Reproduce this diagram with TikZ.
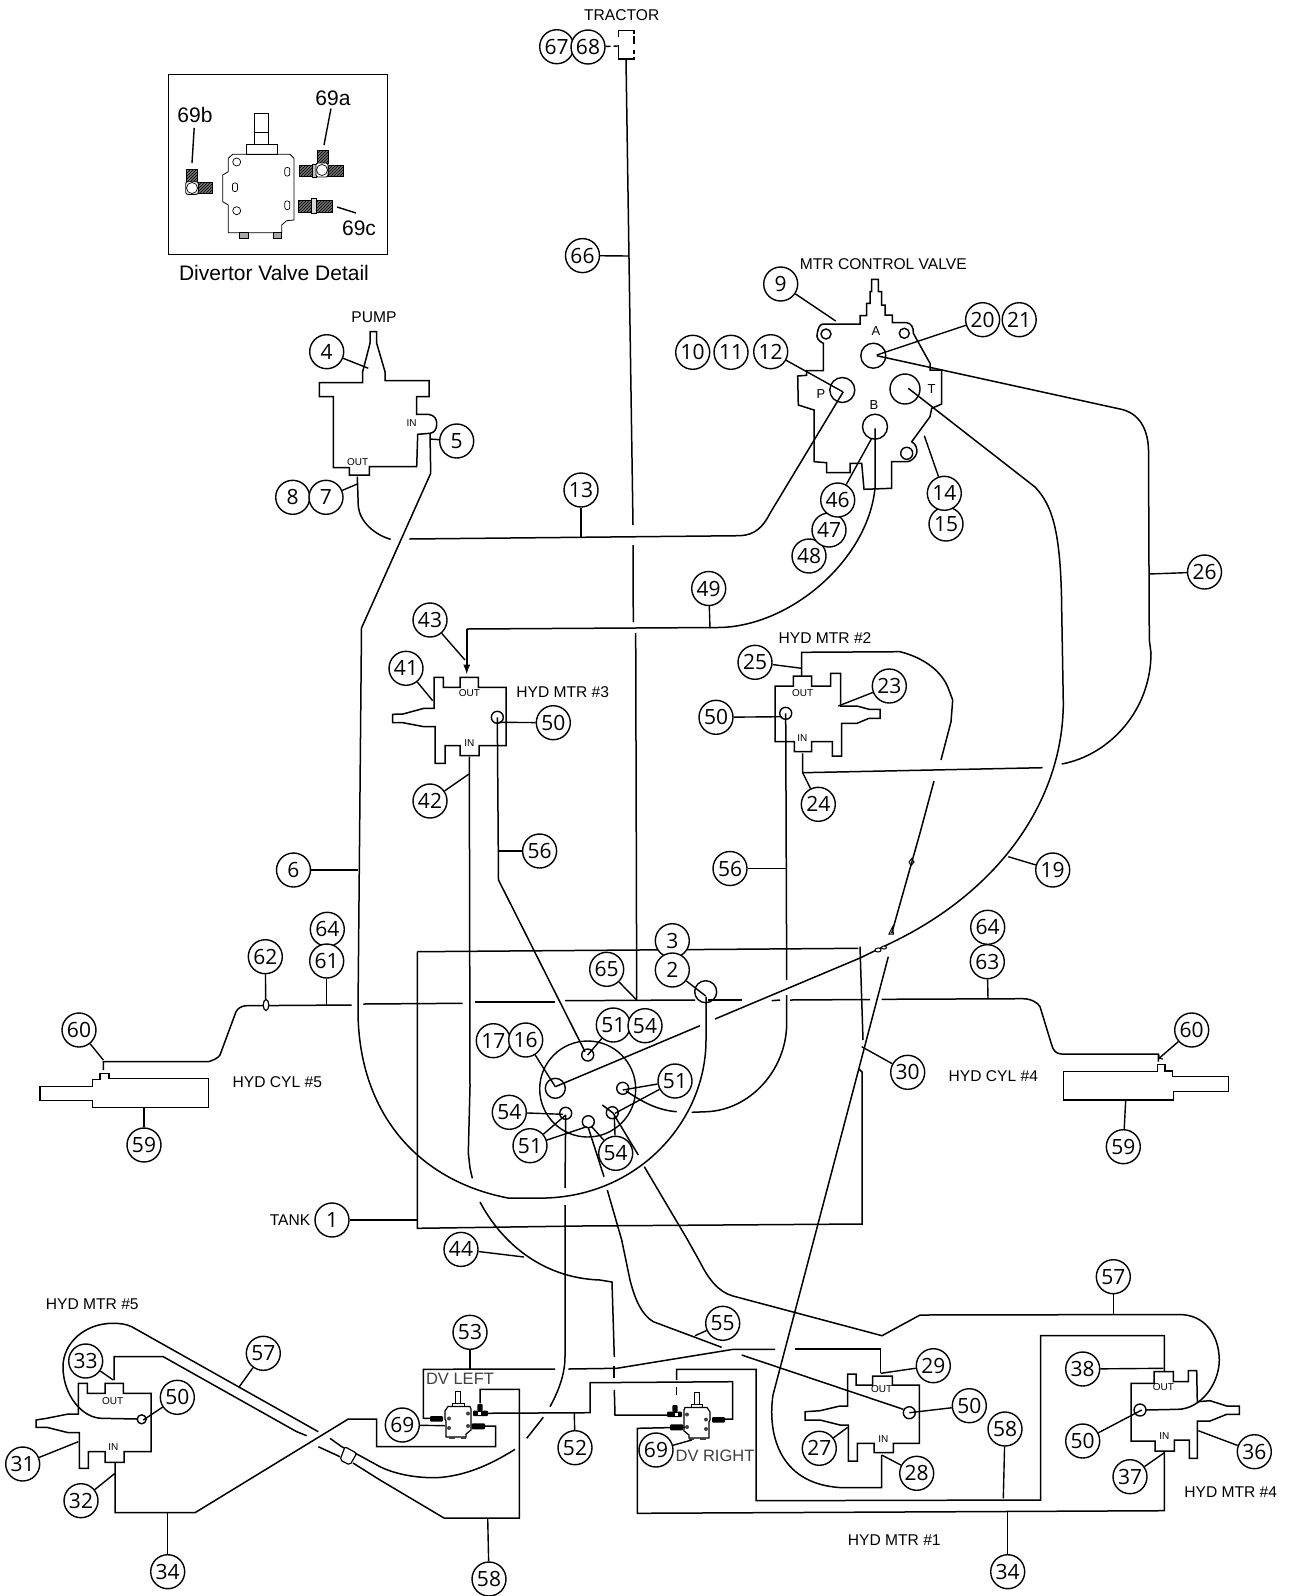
\documentclass[tikz,border=0pt]{standalone}
\usepackage{fontspec}
\usetikzlibrary{patterns}
\setmainfont{Liberation Sans}
\newfontfamily\ballfont{Open Sans}
\tikzset{
    ball/.style={circle, draw, fill=white, line width=1.4pt, minimum size=34pt, inner sep=0pt, font=\ballfont\fontsize{21}{21}\selectfont},
    leader/.style={line width=1.4pt},
    hose/.style={line width=1.5pt},
    body/.style={line width=1.5pt, line join=miter},
    port/.style={line width=1.4pt},
    thread/.style={draw, fill=black!55, line width=0.8pt, postaction={pattern=north east lines, pattern color=black}},
    mtrlabel/.style={inner sep=0pt, font=\fontsize{15.6}{16}\selectfont},
    dvlabel/.style={inner sep=0pt, text=black!75, font=\fontsize{16.5}{17}\selectfont},
    detlabel/.style={inner sep=0pt, font=\fontsize{21}{22}\selectfont},
    pinlabel/.style={inner sep=0pt, font=\fontsize{10}{10}\selectfont},
    valvepin/.style={inner sep=0pt, font=\fontsize{13}{13}\selectfont},
    dvvalve/.pic={
        \draw [line width=1pt] (-2.5,-30) rectangle (2.5,-18);
        \draw [line width=1pt] (-5.5,-18) rectangle (6,-14.5);
        \draw [line width=1.2pt] (-10,-14.5) -- (12,-14.5) -- (13,-12) -- (13,9) -- (8,13) -- (8,16) -- (-12,16) -- (-12,0) -- (-13,-2) -- (-13,-10) -- cycle;
        \fill [black!75] (-9,16) rectangle (-3,18);
        \fill [black!75] (3,16) rectangle (8,18);
        \fill [black!75] (-9,-2.5) circle (2);
        \fill [black!75] (-9,7) circle (2);
        \fill [black!75] (10,-7.5) circle (2);
        \fill [black!75] (10,5) circle (2);
        \fill [black, rounded corners=1pt] (-28,-5) rectangle (-15,0.7);
        \fill [black, rounded corners=1pt] (15,-10.3) rectangle (30,-5);
        \fill [black, rounded corners=1pt] (19.3,-17) rectangle (24.7,-10);
        \fill [white] (19.5,-9.5) rectangle (22.5,-6.5);
        \fill [black, rounded corners=1pt] (13.7,2.3) rectangle (27,8.3);
    }
}

\begin{document}
\begin{tikzpicture}[x=1pt, y=-1pt]
    \useasboundingbox (0,0) rectangle (1289,1596);

    % Divertor detail
    \draw [line width=1pt] (168.3,74.3) rectangle (387.7,254.3);
    \draw [line width=0.8pt] (254,113) rectangle (268,144);
    \draw [line width=0.8pt] (254,132) -- (268,132);
    \draw [line width=0.8pt] (246,144) rectangle (277,154.3);
    \draw [line width=0.8pt] (232.7,154.3) -- (290,154.3) -- (294,158.3) -- (294,220) -- (286.7,220.7) -- (281.7,225) -- (281.7,232.7) -- (228.3,232.7) -- (228.3,205) -- (222.7,201.7) -- (222.7,175) -- (228.3,171.7) -- (228.3,158.3) -- cycle;
    \draw [line width=0.6pt, fill=black!35] (239.3,232.7) rectangle (248.3,238);
    \draw [line width=0.6pt, fill=black!35] (273.3,232.7) rectangle (281.7,238);
    \draw [line width=0.7pt] (236.7,162) circle (4);
    \draw [line width=0.7pt] (236.7,210.7) circle (4);
    \draw [line width=0.7pt, rounded corners=2pt] (232.5,183) rectangle (237.5,191.5);
    \draw [line width=0.7pt, rounded corners=2pt] (284.8,167.5) rectangle (289.8,176);
    \draw [line width=0.7pt, rounded corners=2pt] (284.8,201) rectangle (289.8,209.5);
    % 69a
    \draw [thread] (299,165) rectangle (312,176);
    \draw [thread] (328,165) rectangle (343.3,176);
    \draw [thread] (317.7,150) rectangle (328.3,163);
    \draw [line width=0.8pt, fill=black!25] (312,164) rectangle (316,177);
    \draw [line width=0.9pt, fill=white, rounded corners=2pt] (316,163) rectangle (328,177);
    \draw [line width=0.7pt] (322,170) circle (5.5);
    % 69b
    \draw [thread] (186.7,169) rectangle (197.3,182);
    \draw [thread] (198.3,182.3) rectangle (212.3,193.3);
    \draw [line width=0.9pt, fill=white, rounded corners=2pt] (185.7,181.7) rectangle (198.3,194.3);
    \draw [line width=0.7pt] (192,188) circle (5.5);
    % 69c
    \draw [thread] (298.3,200) rectangle (311,212);
    \draw [thread] (316.7,200) rectangle (332.7,212);
    \draw [line width=0.8pt, fill=black!15] (311,198.3) rectangle (316.7,213.3);

    \node [detlabel] (l69b) at (195,115) {69b};
    \node [detlabel] (l69a) at (333,98) {69a};
    \node [detlabel] (l69c) at (359,228) {69c};
    \node [inner sep=0pt, font=\fontsize{21}{22}\selectfont] (ldetail) at (274,273) {Divertor Valve Detail};
    \coordinate (t69b) at (192,163);
    \coordinate (t69a) at (324,145);
    \coordinate (t69c) at (337,207);
    \coordinate (s69c) at (356,213);
    \draw [leader, shorten <=5pt] (l69b) -- (t69b);
    \draw [leader, shorten <=3pt] (l69a) -- (t69a);
    \draw [leader] (t69c) -- (s69c);

    % Tractor
    \draw [hose] (618.3,37) -- (618.3,30.7) -- (634,30.7) -- (634,34);
    \draw [hose] (634,36) -- (634,44);
    \draw [hose] (634,50) -- (634,54);
    \draw [hose] (618.3,45) -- (618.3,59) -- (634,59) -- (634,57);

    % Hoses
    \draw [hose] (626,59) -- (633,525);
    \draw [hose] (633,545) -- (633.3,622);
    \draw [hose] (635.7,633) -- (636.7,1000);

    % Tank
    \draw [hose] (417.3,951.7) -- (858.3,948.3);
    \draw [hose] (860,946.7) -- (863,1040);
    \draw [hose] (859,1069) -- (862,1072) -- (862,1224) -- (580,1226) -- (417.3,1228.3) -- (417.3,951.7);
    \draw [port] (705.7,991.7) circle (11);
    \draw [port] (587.7,1089) circle (48);
    \draw [port] (555.3,1088.3) circle (10);
    \draw [port] (587.7,1055) circle (6);
    \draw [port] (622.7,1088.3) circle (6);
    \draw [port] (612.3,1112.7) circle (6);
    \draw [port] (588.3,1121.7) circle (6);
    \draw [port] (565.7,1113.3) circle (6);

    % Cylinder lines
    \draw [hose] (103.3,1070) -- (103.3,1061.7) -- (208.3,1061.7) .. controls (214,1060) and (218,1058) .. (220,1055) -- (236,1011.7) .. controls (238,1008) and (242,1005.7) .. (246.7,1005.7) -- (351.7,1005);
    \draw [hose] (363.3,1004) -- (462.7,1003.3);
    \draw [hose] (475,1002) -- (555,1002);
    \draw [hose] (565,1000.7) -- (695,1000);
    \draw [hose] (708,1000) -- (741.7,1000);
    \draw [hose] (771.7,1000.7) -- (780,1000);
    \draw [hose] (790,1000) -- (870,999.5);
    \draw [hose] (881.7,999.3) -- (1023.3,998.7) .. controls (1032,999) and (1038,1003) .. (1040,1006.7) -- (1051.7,1045) .. controls (1053,1050) and (1056,1054) .. (1061.7,1054) -- (1158.3,1054) -- (1158.3,1061.7);
    \draw [line width=1.2pt, fill=white] (266,1005) ellipse (2.8 and 5.5);

    % Cylinder #5
    \draw [body] (40,1086.7) -- (92.7,1086.7) -- (92.7,1079.3) -- (100,1079.3) -- (100,1073.3) -- (109,1073.3) -- (109,1078.7) -- (208.3,1078.7) -- (208.3,1107.7) -- (92.7,1107.7) -- (92.7,1100.7) -- (40,1100.7) -- cycle;
    % Cylinder #4
    \draw [body] (1063.3,1071.7) -- (1157.7,1071.7) -- (1157.7,1064.3) -- (1165,1064.3) -- (1165,1071) -- (1172.3,1071) -- (1172.3,1076.7) -- (1228.3,1076.7) -- (1228.3,1091.7) -- (1173.3,1091.7) -- (1173.3,1100) -- (1063.3,1100) -- cycle;

    % Pump
    \draw [body] (370,331.7) -- (376.7,331.7) -- (376.7,343.3) -- (385,371.7) -- (385,380.7) -- (429,380.7) -- (429,396.7) -- (416.7,396.7) -- (416.7,414.3) -- (428.3,414.3) .. controls (435,415) and (437,420) .. (436.7,424) .. controls (437,429) and (434,433) .. (430,433.3) -- (417.7,434.3) -- (416.7,466.7) -- (369.3,466.7) -- (369.3,475) -- (349.3,475) -- (349.3,467.7) -- (333.3,467.7) -- (333.3,396.7) -- (319.3,396.7) -- (319.3,382.7) -- (362.7,382.7) -- (362.7,371.7) -- (370,343.3) -- cycle;
    \draw [hose] (357.3,476.7) -- (358.3,506.7) .. controls (360,522) and (375,535) .. (390.7,539.3);
    \draw [hose] (430,433.3) -- (430.7,473.3) -- (361.5,628) -- (358,1010) .. controls (358,1110) and (415,1180) .. (508,1198) -- (546,1198) .. controls (640,1195) and (706,1120) .. (706,1040) -- (706,996.7);
    \draw [hose] (409.3,539) -- (740,535.7) .. controls (755,535) and (763,527) .. (770,513.3) -- (843.3,391.7);

    % Control valve
    \draw [body] (871.7,279.3) -- (878.3,279.3) -- (878.3,291.7) -- (881.7,291.7) -- (881.7,305) -- (885,305) -- (885,315) -- (892.3,315) -- (892.3,322.7) -- (906.7,322.7) .. controls (911,323) and (914,328) .. (913.3,333.3) -- (930,363.3) -- (930,370) -- (941.7,370) -- (941.7,404) -- (931.7,408.3) -- (930,416.7) -- (911.7,441.7) .. controls (916,444) and (917.5,449) .. (916.7,453.3) .. controls (915,458) and (911,461.7) .. (906.7,461.7) -- (891.7,461.7) -- (891.7,488.3) -- (864,489.3) -- (861.7,463.3) -- (850,463.3) -- (850,472.7) -- (826.7,472.7) -- (826.7,462.7) -- (814,461.7) -- (814,410) -- (798.3,405) -- (797.7,376) -- (806.7,375.3) -- (806.7,370.7) -- (823.3,370.7) -- (823.3,343.3) .. controls (818,341) and (816,337) .. (817.3,333.3) .. controls (818,328) and (820,324) .. (823.3,324) -- (860,324) -- (860,315.7) -- (866.7,315.7) -- (866.7,303.3) -- (870,303.3) -- (870,291.7) -- (871.7,291.7) -- cycle;
    \draw [port] (826,334) circle (5);
    \draw [port] (904.3,333.3) circle (5);
    \draw [port] (906.7,453.3) circle (6);
    \draw [port] (842.3,390) circle (12.5);
    \draw [port] (873.3,355.7) circle (12.5);
    \draw [port] (875,426.7) circle (12.5);
    \draw [port] (905,389) circle (15);
    \node [valvepin] (lp) at (821,394.3) {P};
    \node [valvepin] (la) at (876,331) {A};
    \node [valvepin] (lb) at (874,405) {B};
    \node [valvepin] (lt) at (931.7,389.3) {T};

    % Lines from the control valve
    \draw [hose] (875,428.3) -- (875,488) .. controls (868,560) and (790,627) .. (718,627.5) -- (466.7,629);
    \draw [line width=2.2pt, -latex] (466.7,629) -- (466.7,674);
    \draw [hose] (876.7,355.7) -- (1120,409) .. controls (1140,413) and (1148,430) .. (1148.5,450) -- (1149.3,640) -- (1151,653) .. controls (1151,710) and (1110,755) .. (1061.7,764);
    \draw [hose] (1042.7,767.7) -- (802.7,772.7) -- (802.7,753.3);
    \draw [hose] (908.3,388.3) -- (1035,487) .. controls (1052,505) and (1061,530) .. (1061.7,610) -- (1063.3,703) .. controls (1063,800) and (1000,890) .. (893,942) -- (860,958) -- (715,1019);
    \draw [hose] (700,1025.7) -- (555.3,1086.7);
    \draw [line width=1pt, fill=white] (878,950) ellipse (3 and 2);
    \draw [line width=1pt, fill=white] (884,947.5) ellipse (2.5 and 1.5);
    \draw [hose] (801.7,676.7) -- (801.7,652.3) -- (900,651.7) .. controls (925,658) and (942,672) .. (948.3,688.3) -- (952.7,700) -- (951,721.7) -- (941,760);
    \draw [hose] (934,781) -- (920,833) -- (891.7,933.3);
    \draw [line width=1pt] (911.7,858.5) -- (914,862) -- (911,865.5) -- (909,862) -- cycle;
    \draw [line width=1pt] (892.5,927) -- (893.5,934) -- (889,934) -- cycle;
    \draw [hose] (888.3,956.7) -- (773,1395) .. controls (768,1428) and (775,1485) .. (843,1487.7) -- (881.7,1487.7) -- (881.7,1455);

    % Motor #3
    \draw [body] (392.7,714.3) -- (403,714) -- (424,708.3) -- (434,708.3) -- (434,677.3) -- (443.3,677.3) -- (443.3,687.3) -- (460,687.3) -- (460,677.3) -- (478.3,677.3) -- (478.3,687.3) -- (506,687.3) -- (506,745.7) -- (479,745.7) -- (479,755.7) -- (460,755.7) -- (460,745.7) -- (445,745.7) -- (445,763.3) -- (435,763.3) -- (435,726.7) -- (424,726.7) -- (403,722.7) -- (392.7,722.7) -- cycle;
    \draw [port] (497.3,717.3) circle (6);
    \node [pinlabel] (m3out) at (469.3,692.7) {OUT};
    \node [pinlabel] (m3in) at (469.3,742.7) {IN};
    % Motor #2
    \draw [body] (775,686) -- (793.3,686) -- (793.3,676) -- (811.7,676) -- (811.7,686) -- (830.7,686) -- (830.7,673.3) -- (840.7,673.3) -- (840.7,706) -- (857,706) -- (869,709.3) -- (880,709.3) -- (880,718.3) -- (869,718.3) -- (857,723.3) -- (841.7,723.3) -- (841.7,756) -- (832.3,756) -- (832.3,741.7) -- (811.7,741.7) -- (811.7,751.7) -- (794.3,751.7) -- (794.3,741.7) -- (775,741.7) -- cycle;
    \draw [port] (785.7,713.3) circle (6);
    \node [pinlabel] (m2out) at (802.7,692.7) {OUT};
    \node [pinlabel] (m2in) at (802.3,738.3) {IN};
    % Motor #5
    \draw [body] (36,1420) -- (46.7,1418.3) -- (68.3,1414) -- (78.3,1414) -- (78.3,1383.3) -- (87.3,1383.3) -- (87.3,1393.3) -- (105,1393.3) -- (105,1383.3) -- (123.3,1383.3) -- (123.3,1393.3) -- (151,1393.3) -- (151,1451.7) -- (124,1451.7) -- (124,1462.3) -- (105,1462.3) -- (105,1451.7) -- (88.3,1451.7) -- (88.3,1468.3) -- (79.3,1468.3) -- (79.3,1432.7) -- (68.3,1432.7) -- (46.7,1427.3) -- (36,1427.3) -- cycle;
    \draw [port] (141.7,1419.3) circle (4.5);
    \node [pinlabel] (m5out) at (112.7,1400.7) {OUT};
    \node [pinlabel] (m5in) at (113.3,1447.3) {IN};
    % Motor #1
    \draw [body] (805,1411.7) -- (820,1410.7) -- (840,1406) -- (847.7,1406) -- (847.7,1374) -- (856,1374) -- (856,1385) -- (872.7,1385) -- (872.7,1376) -- (892.3,1376) -- (892.3,1385) -- (919.3,1385) -- (919.3,1443.3) -- (893.3,1443.3) -- (893.3,1452.7) -- (874,1452.7) -- (874,1443.3) -- (857.3,1443.3) -- (857.3,1461) -- (848.3,1461) -- (848.3,1425) -- (840,1425) -- (820,1420) -- (805,1420) -- cycle;
    \draw [port] (909.3,1412.7) circle (6);
    \node [pinlabel] (m1out) at (881.7,1389.3) {OUT};
    \node [pinlabel] (m1in) at (883.3,1439) {IN};
    % Motor #4
    \draw [body] (1131,1383.3) -- (1154,1383.3) -- (1154,1371.7) -- (1173.3,1371.7) -- (1173.3,1381.7) -- (1188.3,1381.7) -- (1188.3,1370.7) -- (1196.7,1370.7) -- (1197.3,1401.7) -- (1210,1400.7) -- (1226.7,1406) -- (1239.3,1406) -- (1239.3,1414.3) -- (1226.7,1414.3) -- (1210,1421) -- (1197.3,1421) -- (1197.3,1458.3) -- (1189.3,1458.3) -- (1189.3,1440) -- (1174.3,1440) -- (1174.3,1451) -- (1155,1451) -- (1155,1441) -- (1131,1441) -- cycle;
    \draw [port] (1140,1410) circle (6);
    \node [pinlabel] (m4out) at (1163.3,1387.3) {OUT};
    \node [pinlabel] (m4in) at (1164.3,1436) {IN};

    % Lines to the tank
    \draw [hose] (469.3,756.7) -- (470,1086.7) -- (468.3,1153) -- (470,1168) -- (472.3,1178.3);
    \draw [hose] (480,1202) .. controls (500,1240) and (540,1278) .. (600,1280) -- (612,1282) -- (614.3,1357);
    \draw [hose] (614,1366) -- (614,1378);
    \draw [hose] (614.3,1390) -- (615,1415) -- (670,1415);
    \draw [hose] (497.3,717.3) -- (498.5,880) -- (585,1051.7);
    \draw [hose] (785.7,713.3) -- (786.7,980);
    \draw [hose] (786.7,995) -- (786.7,1023) .. controls (786.7,1070) and (750,1110) .. (706.7,1111.7) -- (691.7,1112.3);
    \draw [hose] (676.7,1111.7) .. controls (655,1110) and (640,1100) .. (626,1091);
    \draw [hose] (565.7,1115) -- (565,1188);
    \draw [hose] (565,1205) -- (565,1356.7) .. controls (565,1375) and (558,1392) .. (550,1406.7);
    \draw [hose] (543.3,1417.3) -- (526.7,1438.3);
    \draw [hose] (515,1449.3) .. controls (490,1465) and (465,1476) .. (436.7,1477.7) .. controls (415,1478) and (395,1474) .. (380,1466.7) -- (355,1453) -- (341.7,1446.7) -- (330,1438.3);
    \draw [hose] (318.3,1431.7) -- (131.7,1326.7) .. controls (126,1324) and (120,1323.3) .. (113.3,1323.3) .. controls (85,1323) and (63,1343) .. (63,1366.7) .. controls (63,1395) and (82,1418) .. (101.7,1418.3) -- (137.3,1419);
    \draw [hose] (588.3,1127.7) -- (604,1176.7);
    \draw [hose] (607.3,1190) -- (621.7,1240) -- (630,1280) .. controls (635,1300) and (642,1315) .. (653.3,1321.7) -- (721.7,1347.3);
    \draw [hose] (741.7,1355) -- (903.3,1409.3);
    \draw [hose] (602.3,1105) -- (613,1113) -- (638.3,1155);
    \draw [hose] (644.3,1166.7) -- (686.7,1238.3) -- (700,1262) .. controls (708,1278) and (718,1292) .. (733,1296) -- (882,1335.7) -- (920,1315) -- (1178,1314.5) .. controls (1205,1314) and (1219,1335) .. (1219.3,1360) .. controls (1219,1385) and (1200,1409) .. (1178,1409.3) -- (1146,1410);

    % Lines at the divertor valves
    \draw [hose] (555,1369) -- (423.3,1369.3) -- (423.3,1418.3) -- (430,1418.3);
    \draw [hose] (568.3,1369) -- (616.7,1368.3) -- (733.3,1349.3) -- (775,1349.3);
    \draw [hose] (795,1349) -- (880.7,1349) -- (880.7,1373.3);
    \draw [hose] (480,1413.3) -- (590,1412.7) -- (590,1382.7) -- (732.7,1381.7) -- (732.7,1419) -- (716.7,1419);
    \draw [hose] (480,1403.3) -- (480,1389.3) -- (519.3,1389.3) -- (519.3,1518) -- (444,1518) -- (380,1480) -- (353,1463);
    \draw [hose] (340,1456.7) -- (318.3,1446.7);
    \draw [hose] (306.7,1435.7) -- (296.7,1431.7) -- (163.3,1356.7) -- (114,1356.7) -- (114,1380);
    \draw [hose] (676.7,1380) -- (676.7,1369.3) -- (756,1369.3) -- (756,1500.7) -- (1040.7,1500) -- (1040.7,1335.7) -- (1164.3,1335.7) -- (1164.3,1371);
    \draw [hose] (676.7,1386.7) -- (676.7,1395);
    \draw [hose] (685,1427.3) -- (637.3,1428.3) -- (637.3,1513.3) -- (1164.3,1510.7) -- (1164.3,1451.7);
    \draw [hose] (115,1462.3) -- (115,1512.7) -- (195,1512.7) -- (348.3,1419) -- (376.7,1419) -- (376.7,1446.7) -- (495.7,1446.7) -- (495.7,1426) -- (485,1426);
    \draw [line width=1.2pt, fill=white, rounded corners=2pt] (345,1446.7) -- (356.7,1453.3) -- (350,1465) -- (340,1460) -- cycle;
    \pic at (458,1421) {dvvalve};
    \pic [xscale=-1] at (697,1422) {dvvalve};
    \node [dvlabel] (ldvl) at (460,1379.3) {DV LEFT};
    \node [dvlabel] (ldvr) at (715,1456) {DV RIGHT};

    % Titles
    \node [mtrlabel] (ltractor) at (621.7,15) {TRACTOR};
    \node [mtrlabel] (lpump) at (374,317.3) {PUMP};
    \node [mtrlabel] (lvalve) at (883.3,264) {MTR CONTROL VALVE};
    \node [mtrlabel] (lm2) at (825,638.3) {HYD MTR \#2};
    \node [mtrlabel] (lm3) at (562.7,691.7) {HYD MTR \#3};
    \node [mtrlabel] (lm5) at (92.3,1304) {HYD MTR \#5};
    \node [mtrlabel] (lm1) at (894.3,1540) {HYD MTR \#1};
    \node [mtrlabel] (lm4) at (1230.7,1492.3) {HYD MTR \#4};
    \node [mtrlabel] (lc5) at (277.3,1081.7) {HYD CYL \#5};
    \node [mtrlabel] (lc4) at (993.3,1075.7) {HYD CYL \#4};
    \node [mtrlabel] (ltank) at (290,1220.5) {TANK};
    \node [pinlabel] (lin) at (411.7,423.3) {IN};
    \node [pinlabel] (lout) at (357.7,461.7) {OUT};

    % Balloons
    \node [ball] (b67) at (556.7,46.7) {67};
    \node [ball] (b68) at (588,47) {68};
    \node [ball] (b66) at (582.5,255.6) {66};
    \node [ball] (b9) at (780.7,284) {9};
    \node [ball] (b10) at (692.7,352.3) {10};
    \node [ball] (b11) at (731,352.3) {11};
    \node [ball] (b12) at (770.7,351.7) {12};
    \node [ball] (b20) at (982.6,319.7) {20};
    \node [ball] (b21) at (1019.2,319.7) {21};
    \node [ball] (b4) at (326.7,351.7) {4};
    \node [ball] (b5) at (456.7,441) {5};
    \node [ball] (b8) at (292.7,497.3) {8};
    \node [ball] (b7) at (326,497.3) {7};
    \node [ball] (b13) at (581,490) {13};
    \node [ball] (b48) at (809,556) {48};
    \node [ball] (b47) at (829,530) {47};
    \node [ball] (b46) at (837.7,500) {46};
    \node [ball] (b15) at (946,524) {15};
    \node [ball] (b14) at (944.3,493.3) {14};
    \node [ball] (b26) at (1204.5,572) {26};
    \node [ball] (b49) at (708.7,588.5) {49};
    \node [ball] (b43) at (430,620) {43};
    \node [ball] (b41) at (406,668.3) {41};
    \node [ball] (b42) at (430,801) {42};
    \node [ball] (b50c) at (553.3,722.7) {50};
    \node [ball] (b56a) at (539.6,851) {56};
    \node [ball] (b25) at (755,662.3) {25};
    \node [ball] (b23) at (889.3,686) {23};
    \node [ball] (b50b) at (716,717.3) {50};
    \node [ball] (b24) at (818.3,804.3) {24};
    \node [ball] (b56b) at (730,868.5) {56};
    \node [ball] (b19) at (1052.7,870) {19};
    \node [ball] (b6) at (293.5,870) {6};
    \node [ball] (b64a) at (327.3,929.3) {64};
    \node [ball] (b61) at (326.7,961) {61};
    \node [ball] (b62) at (265.3,956.7) {62};
    \node [ball] (b60a) at (79,1030) {60};
    \node [ball] (b59a) at (144,1145) {59};
    \node [ball] (b64b) at (987.7,927.3) {64};
    \node [ball] (b63) at (987.3,961.7) {63};
    \node [ball] (b60b) at (1191.7,1030) {60};
    \node [ball] (b59b) at (1123.3,1146.7) {59};
    \node [ball] (b30) at (907.7,1072.3) {30};
    \node [ball] (b3) at (672.3,940.7) {3};
    \node [ball] (b2) at (672.3,970) {2};
    \node [ball] (b65) at (606.7,969.3) {65};
    \node [ball] (b51a) at (613.3,1025) {51};
    \node [ball] (b54a) at (645,1025.7) {54};
    \node [ball] (b17) at (493.3,1040.7) {17};
    \node [ball] (b16) at (525.7,1040) {16};
    \node [ball] (b51b) at (675,1081) {51};
    \node [ball] (b54b) at (509.3,1112.3) {54};
    \node [ball] (b51c) at (530,1145.7) {51};
    \node [ball] (b54c) at (615.7,1153.3) {54};
    \node [ball] (b1) at (332,1220) {1};
    \node [ball] (b44) at (461,1249.4) {44};
    \node [ball] (b53) at (470,1332.3) {53};
    \node [ball] (b55) at (722.7,1323.3) {55};
    \node [ball] (b57a) at (263.3,1353.3) {57};
    \node [ball] (b57b) at (1113.3,1276.7) {57};
    \node [ball] (b33) at (85.7,1361) {33};
    \node [ball] (b50e) at (177.3,1397.3) {50};
    \node [ball] (b31) at (22.7,1464) {31};
    \node [ball] (b32) at (81,1500.7) {32};
    \node [ball] (b34a) at (167.7,1571.7) {34};
    \node [ball] (b58a) at (489,1579) {58};
    \node [ball] (b69a) at (402.3,1425) {69};
    \node [ball] (b52) at (575,1447.7) {52};
    \node [ball] (b69b) at (656,1450) {69};
    \node [ball] (b29) at (933.3,1365.7) {29};
    \node [ball] (b50a) at (969.3,1405.7) {50};
    \node [ball] (b27) at (819.3,1448.3) {27};
    \node [ball] (b28) at (916.7,1473.3) {28};
    \node [ball] (b58b) at (1005,1429) {58};
    \node [ball] (b38) at (1082.7,1369) {38};
    \node [ball] (b50d) at (1082.7,1441) {50};
    \node [ball] (b37) at (1130,1476.7) {37};
    \node [ball] (b36) at (1254.3,1451.7) {36};
    \node [ball] (b34b) at (1007.7,1571.7) {34};

    % Leader ends
    \coordinate (t68) at (618,46);
    \coordinate (t66) at (629,256);
    \coordinate (t9) at (835.7,321);
    \coordinate (t12) at (842.7,391.7);
    \coordinate (t20) at (876.7,355);
    \coordinate (t4) at (368.3,368.3);
    \coordinate (t5) at (430,439);
    \coordinate (t7) at (357.3,484);
    \coordinate (t13) at (581,537.3);
    \coordinate (t46) at (871.7,438.3);
    \coordinate (t14) at (924.3,435.7);
    \coordinate (t26) at (1149,574);
    \coordinate (t49) at (710,628);
    \coordinate (t43) at (465,660);
    \coordinate (t41) at (432.7,700.7);
    \coordinate (t42) at (469,774);
    \coordinate (t50c) at (498.3,722.3);
    \coordinate (t56a) at (499,851);
    \coordinate (t25) at (801.7,668.3);
    \coordinate (t23) at (838.3,706);
    \coordinate (t50b) at (781.7,716.7);
    \coordinate (t24) at (802.7,772.7);
    \coordinate (t56b) at (786,868.5);
    \coordinate (t19) at (1008.3,856.7);
    \coordinate (t6) at (358,870);
    \coordinate (t61) at (326.7,1005);
    \coordinate (t62) at (265.7,1000);
    \coordinate (t60a) at (103.3,1060);
    \coordinate (t59a) at (144,1107.7);
    \coordinate (t63) at (988,999);
    \coordinate (t60b) at (1158.3,1059);
    \coordinate (t59b) at (1125.7,1100);
    \coordinate (t30) at (861.7,1046.7);
    \coordinate (t2) at (705.7,996);
    \coordinate (t65) at (636,999.3);
    \coordinate (t51a) at (587.7,1055);
    \coordinate (t16) at (555.3,1086.7);
    \coordinate (t51b) at (622.7,1090);
    \coordinate (t51d) at (615,1113.3);
    \coordinate (t54b) at (563,1114.3);
    \coordinate (t51c) at (565.7,1115);
    \coordinate (t51e) at (586.7,1126.7);
    \coordinate (t54c) at (591.7,1126.7);
    \coordinate (t54d) at (614.3,1116.7);
    \coordinate (t1) at (417,1220);
    \coordinate (t44) at (524,1257);
    \coordinate (t53) at (470,1369.3);
    \coordinate (t55) at (695,1335.7);
    \coordinate (t57a) at (239.3,1386.7);
    \coordinate (t57b) at (1113.3,1314.7);
    \coordinate (t33) at (113.3,1380);
    \coordinate (t50e) at (143.3,1420);
    \coordinate (t31) at (78.3,1441.7);
    \coordinate (t32) at (115,1473.3);
    \coordinate (t34a) at (167.7,1512.7);
    \coordinate (t58a) at (487.7,1518);
    \coordinate (t69a) at (445,1425.7);
    \coordinate (t52) at (574.3,1412.7);
    \coordinate (t69b) at (691.7,1440);
    \coordinate (t29) at (880.7,1373.3);
    \coordinate (t50a) at (909.3,1412.7);
    \coordinate (t27) at (847.7,1427.3);
    \coordinate (t28) at (881.7,1455);
    \coordinate (t58b) at (1003.3,1498.3);
    \coordinate (t38) at (1163.3,1368.3);
    \coordinate (t50d) at (1141.7,1410);
    \coordinate (t37) at (1164.3,1452.7);
    \coordinate (t36) at (1198.3,1430.7);
    \coordinate (t34b) at (1007.7,1512);

    % Leaders
    \draw [leader, dashed, dash pattern=on 5pt off 3pt] (b68) -- (t68);
    \draw [leader] (b66) -- (t66);
    \draw [leader] (b9) -- (t9);
    \draw [leader] (b12) -- (t12);
    \draw [leader] (b20) -- (t20);
    \draw [leader] (b4) -- (t4);
    \draw [leader] (b5) -- (t5);
    \draw [leader] (b7) -- (t7);
    \draw [leader] (b13) -- (t13);
    \draw [leader] (b46) -- (t46);
    \draw [leader] (b14) -- (t14);
    \draw [leader] (b26) -- (t26);
    \draw [leader] (b49) -- (t49);
    \draw [leader] (b43) -- (t43);
    \draw [leader] (b41) -- (t41);
    \draw [leader] (b42) -- (t42);
    \draw [leader] (b50c) -- (t50c);
    \draw [leader] (b56a) -- (t56a);
    \draw [leader] (b25) -- (t25);
    \draw [leader] (b23) -- (t23);
    \draw [leader] (b50b) -- (t50b);
    \draw [leader] (b24) -- (t24);
    \draw [leader] (b56b) -- (t56b);
    \draw [leader] (b19) -- (t19);
    \draw [leader] (b6) -- (t6);
    \draw [leader] (b61) -- (t61);
    \draw [leader] (b62) -- (t62);
    \draw [leader] (b60a) -- (t60a);
    \draw [leader] (b59a) -- (t59a);
    \draw [leader] (b63) -- (t63);
    \draw [leader, ->] (b60b) -- (t60b);
    \draw [leader] (b59b) -- (t59b);
    \draw [leader] (b30) -- (t30);
    \draw [leader] (b2) -- (t2);
    \draw [leader] (b65) -- (t65);
    \draw [leader] (b51a) -- (t51a);
    \draw [leader] (b16) -- (t16);
    \draw [leader] (b51b) -- (t51b);
    \draw [leader] (b51b) -- (t51d);
    \draw [leader] (b54b) -- (t54b);
    \draw [leader] (b51c) -- (t51c);
    \draw [leader] (b51c) -- (t51e);
    \draw [leader] (b54c) -- (t54c);
    \draw [leader] (b54c) -- (t54d);
    \draw [leader] (b1) -- (t1);
    \draw [leader] (b44) -- (t44);
    \draw [leader] (b53) -- (t53);
    \draw [leader] (b55) -- (t55);
    \draw [leader] (b57a) -- (t57a);
    \draw [leader] (b57b) -- (t57b);
    \draw [leader] (b33) -- (t33);
    \draw [leader] (b50e) -- (t50e);
    \draw [leader] (b31) -- (t31);
    \draw [leader] (b32) -- (t32);
    \draw [leader] (b34a) -- (t34a);
    \draw [leader] (b58a) -- (t58a);
    \draw [leader] (b69a) -- (t69a);
    \draw [leader] (b52) -- (t52);
    \draw [leader] (b69b) -- (t69b);
    \draw [leader] (b29) -- (t29);
    \draw [leader] (b50a) -- (t50a);
    \draw [leader] (b27) -- (t27);
    \draw [leader] (b28) -- (t28);
    \draw [leader] (b58b) -- (t58b);
    \draw [leader] (b38) -- (t38);
    \draw [leader] (b50d) -- (t50d);
    \draw [leader] (b37) -- (t37);
    \draw [leader] (b36) -- (t36);
    \draw [leader] (b34b) -- (t34b);
\end{tikzpicture}
\end{document}
